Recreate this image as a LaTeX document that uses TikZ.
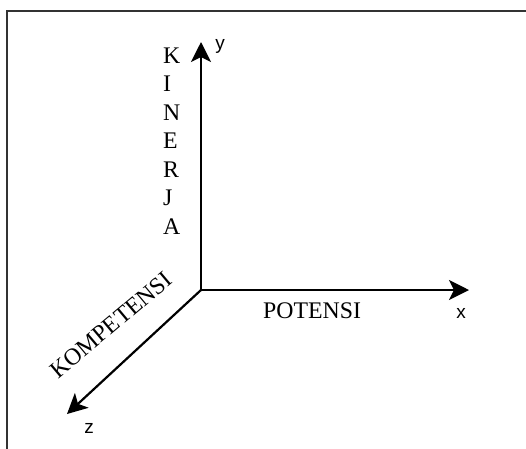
\documentclass[tikz,border=0pt]{standalone}
\usepackage{fontspec}
\setmainfont{Liberation Serif}
\newfontfamily\axfont{Liberation Sans}
\usetikzlibrary{arrows.meta}
\begin{document}
\begin{tikzpicture}[x=1pt,y=-1pt,
  axis/.style={line width=2.2pt, -{Stealth[length=20pt,width=20pt,inset=5pt]}},
  lbl/.style={font=\fontsize{23.8}{28.5}\selectfont, inner sep=0pt},
  axlbl/.style={font=\axfont\fontsize{19}{22}\selectfont, inner sep=0pt, anchor=base}]
\useasboundingbox (0,0) rectangle (526,448);
\draw[line width=2pt, color=black!80] (7,449) -- (7,11) -- (527,11);
\coordinate (O) at (201,290);
\coordinate (ytip) at (201,42);
\coordinate (xtip) at (469,290);
\coordinate (ztip) at (67,414);
\draw[axis] (O) -- (ytip);
\draw[axis] (O) -- (xtip);
\draw[axis] (O) -- (ztip);
\node[axlbl] (ylab) at (220,49) {y};
\node[axlbl] (xlab) at (461,318) {x};
\node[axlbl] (zlab) at (89,433) {z};
\node[lbl, anchor=base west] (pot) at (263,318) {POTENSI};
\node[lbl, anchor=base, rotate=40] (kom) at (116,331) {KOMPETENSI};
\foreach \ch [count=\i from 0] in {K,I,N,E,R,J,A}
  \node[lbl, anchor=base west] (kin\i) at (163,63+28.5*\i) {\ch};
\end{tikzpicture}
\end{document}
